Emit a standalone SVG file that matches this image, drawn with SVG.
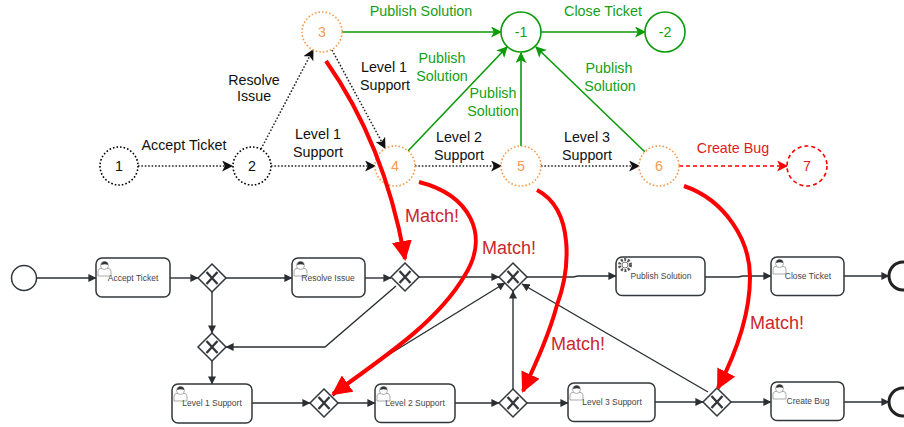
<svg xmlns="http://www.w3.org/2000/svg" width="904" height="427" viewBox="0 0 904 427">
<style>
text{font-family:"Liberation Sans",Arial,sans-serif;text-anchor:middle}
.l{font-size:14.300px}
.k{fill:#111}.g{fill:#15a015}.r{fill:#e01b1b}.o{fill:#f79b4d}
.st{fill:#fff;stroke-width:1.600;stroke-dasharray:1.600 2}
.kc{stroke:#000}.oc{stroke:#f79b4d}.rc{stroke:#f00;stroke-dasharray:4 3;stroke-width:1.600}.gc{fill:#fff;stroke:#0a9a0a;stroke-width:1.600;stroke-dasharray:none}
.dot{fill:none;stroke:#222;stroke-width:1.500;stroke-dasharray:1.600 1.800}
.grn{fill:none;stroke:#0a9a0a;stroke-width:1.600}
.red{fill:none;stroke:#f00;stroke-width:1.600;stroke-dasharray:4 3}
.fl{fill:none;stroke:#2b2f33;stroke-width:1.400}
.big{fill:none;stroke:#f00;stroke-width:4}
.task{fill:#fff;stroke:#33373b;stroke-width:1.500}
.tt{font-size:8.500px;fill:#444}
.gw{fill:#fff;stroke:#33373b;stroke-width:1.500}
.x{fill:none;stroke:#33373b;stroke-width:2.400}
.m{font-size:18px;fill:#c8282d}
.ic{fill:#fff;stroke:#888;stroke-width:.7}
.ih{fill:#333}
</style>
<defs>
<marker id="ak" viewBox="0 0 10 10" refX="9" refY="5" markerWidth="11" markerHeight="11" markerUnits="userSpaceOnUse" orient="auto"><path d="M0 0L10 5L0 10L2.500 5Z" fill="#111"/></marker>
<marker id="ag" viewBox="0 0 10 10" refX="9" refY="5" markerWidth="11" markerHeight="11" markerUnits="userSpaceOnUse" orient="auto"><path d="M0 0L10 5L0 10L2.500 5Z" fill="#0a9a0a"/></marker>
<marker id="ar" viewBox="0 0 10 10" refX="9" refY="5" markerWidth="11" markerHeight="11" markerUnits="userSpaceOnUse" orient="auto"><path d="M0 0L10 5L0 10L2.500 5Z" fill="#f00"/></marker>
<marker id="af" viewBox="0 0 10 10" refX="9.500" refY="5" markerWidth="8" markerHeight="8" markerUnits="userSpaceOnUse" orient="auto"><path d="M0 0L10 5L0 10Z" fill="#2b2f33"/></marker>
<marker id="ab" viewBox="0 0 10 10" refX="9" refY="5" markerWidth="20" markerHeight="20" markerUnits="userSpaceOnUse" orient="auto"><path d="M0 0L10 5L0 10Z" fill="#f00"/></marker>
<g id="person"><path class="ic" d="M0 15V10Q0 7.500 4 7H9Q13 7.500 13 10V15Z"/><circle class="ic" cx="6.500" cy="4.500" r="4"/><path class="ih" d="M3 4Q3.500 .5 6.500 .5Q10 .5 10 4Q7 2.500 3 4Z"/></g>
<path id="cross" class="x" d="M-5.500-6L5.500 6M5.500-6L-5.500 6"/>
</defs>

<g id="connectors">
<g id="state-edges">
<path class="dot" marker-end="url(#ak)" d="M138 166H232"/>
<path class="dot" marker-end="url(#ak)" d="M261 149L313 50"/>
<path class="dot" marker-end="url(#ak)" d="M271 166H375"/>
<path class="dot" marker-end="url(#ak)" d="M332 50L385 148"/>
<path class="dot" marker-end="url(#ak)" d="M415 166H501"/>
<path class="dot" marker-end="url(#ak)" d="M541 166H639"/>
<path class="grn" marker-end="url(#ag)" d="M342 32H501"/>
<path class="grn" marker-end="url(#ag)" d="M408 151L507 47"/>
<path class="grn" marker-end="url(#ag)" d="M521 146V53"/>
<path class="grn" marker-end="url(#ag)" d="M645 152L536 47"/>
<path class="grn" marker-end="url(#ag)" d="M541 32H645"/>
<path class="red" marker-end="url(#ar)" d="M679 166H787"/>
</g>
<g id="flow-edges">
<path class="fl" marker-end="url(#af)" d="M37 278H96"/>
<path class="fl" marker-end="url(#af)" d="M170 278H198"/>
<path class="fl" marker-end="url(#af)" d="M226 278H292"/>
<path class="fl" marker-end="url(#af)" d="M212 292V333"/>
<path class="fl" marker-end="url(#af)" d="M212 361V384"/>
<path class="fl" marker-end="url(#af)" d="M365 278H391"/>
<path class="fl" marker-end="url(#af)" d="M419 277H499"/>
<path class="fl" marker-end="url(#af)" d="M396 286L325 347H226"/>
<path class="fl" marker-end="url(#af)" d="M252 403H310"/>
<path class="fl" marker-end="url(#af)" d="M338 403H357L375 403"/>
<path class="fl" marker-end="url(#af)" d="M333 396L380 360L505 283"/>
<path class="fl" marker-end="url(#af)" d="M455 403H499"/>
<path class="fl" marker-end="url(#af)" d="M513 389V291"/>
<path class="fl" marker-end="url(#af)" d="M527 403H568"/>
<path class="fl" marker-end="url(#af)" d="M655 402H703"/>
<path class="fl" marker-end="url(#af)" d="M708 392L522 284"/>
<path class="fl" marker-end="url(#af)" d="M731 402H771"/>
<path class="fl" marker-end="url(#af)" d="M527 277H573L578 276H616"/>
<path class="fl" marker-end="url(#af)" d="M705 277H738L743 276H771"/>
<path class="fl" marker-end="url(#af)" d="M844 276H889"/>
<path class="fl" marker-end="url(#af)" d="M844 402H889"/>
</g>
</g>

<g id="n1"><circle class="st kc" cx="119" cy="166" r="19"/><text class="l k" x="119" y="171">1</text></g>
<g id="n2"><circle class="st kc" cx="252" cy="166" r="19"/><text class="l k" x="252" y="171">2</text></g>
<g id="n3"><circle class="st oc" cx="322" cy="32" r="20"/><text class="l o" x="322" y="37">3</text></g>
<g id="n4"><circle class="st oc" cx="395" cy="166" r="20"/><text class="l o" x="395" y="171">4</text></g>
<g id="n5"><circle class="st oc" cx="521" cy="166" r="20"/><text class="l o" x="521" y="171">5</text></g>
<g id="n6"><circle class="st oc" cx="659" cy="166" r="20"/><text class="l o" x="659" y="171">6</text></g>
<g id="n7"><circle class="st rc" cx="807" cy="166" r="20"/><text class="l r" x="807" y="171">7</text></g>
<g id="n-1"><circle class="gc" cx="521" cy="32" r="20"/><text class="l g" x="521" y="37">-1</text></g>
<g id="n-2"><circle class="gc" cx="665" cy="32" r="20"/><text class="l g" x="665" y="37">-2</text></g>

<g id="edge-labels">
<text class="l k" x="184" y="150">Accept Ticket</text>
<text class="l k" x="254" y="85">Resolve</text><text class="l k" x="254" y="101">Issue</text>
<text class="l k" x="318" y="139">Level 1</text><text class="l k" x="318" y="157">Support</text>
<text class="l k" x="384" y="72">Level 1</text><text class="l k" x="385" y="90">Support</text>
<text class="l k" x="459" y="142">Level 2</text><text class="l k" x="459" y="160">Support</text>
<text class="l k" x="587" y="142">Level 3</text><text class="l k" x="587" y="160">Support</text>
<text class="l g" x="421" y="16">Publish Solution</text>
<text class="l g" x="603" y="16">Close Ticket</text>
<text class="l g" x="442" y="63">Publish</text><text class="l g" x="442" y="81">Solution</text>
<text class="l g" x="493" y="98">Publish</text><text class="l g" x="493" y="116">Solution</text>
<text class="l g" x="609" y="73">Publish</text><text class="l g" x="610" y="91">Solution</text>
<text class="l r" x="733" y="153">Create Bug</text>
</g>

<g id="start"><circle cx="24" cy="278" r="12.500" fill="#fff" stroke="#33373b" stroke-width="1.500"/></g>
<g id="t-accept"><rect class="task" x="96" y="258" width="74" height="39" rx="6"/><use href="#person" x="98" y="261"/><text class="tt" x="133" y="281">Accept Ticket</text></g>
<g id="t-resolve"><rect class="task" x="292" y="258" width="73" height="39" rx="6"/><use href="#person" x="294" y="261"/><text class="tt" x="328" y="281">Resolve Issue</text></g>
<g id="t-publish"><rect class="task" x="616" y="257" width="89" height="38.500" rx="6"/><circle cx="625" cy="265" r="5.500" fill="#fff" stroke="#555" stroke-width="3" stroke-dasharray="2 1.500"/><circle cx="625" cy="265" r="3" fill="#fff" stroke="#555" stroke-width=".8"/><text class="tt" x="661" y="279">Publish Solution</text></g>
<g id="t-close"><rect class="task" x="771" y="257" width="73" height="38.500" rx="6"/><use href="#person" x="773" y="259"/><text class="tt" x="808" y="279">Close Ticket</text></g>
<g id="t-l1"><rect class="task" x="172" y="384" width="80" height="39" rx="6"/><use href="#person" x="174" y="386"/><text class="tt" x="212" y="406">Level 1 Support</text></g>
<g id="t-l2"><rect class="task" x="375" y="384" width="80" height="38.500" rx="6"/><use href="#person" x="377" y="386"/><text class="tt" x="415" y="406">Level 2 Support</text></g>
<g id="t-l3"><rect class="task" x="568" y="383" width="87" height="38.500" rx="6"/><use href="#person" x="570" y="385"/><text class="tt" x="612" y="405">Level 3 Support</text></g>
<g id="t-bug"><rect class="task" x="771" y="382" width="73" height="38.500" rx="6"/><use href="#person" x="773" y="384"/><text class="tt" x="808" y="404">Create Bug</text></g>
<g id="g1"><path class="gw" d="M212 264L226 278L212 292L198 278Z"/><use href="#cross" x="212" y="278"/></g>
<g id="g2"><path class="gw" d="M212 333L226 347L212 361L198 347Z"/><use href="#cross" x="212" y="347"/></g>
<g id="g3"><path class="gw" d="M405 263L419 277L405 291L391 277Z"/><use href="#cross" x="405" y="277"/></g>
<g id="g4"><path class="gw" d="M513 263L527 277L513 291L499 277Z"/><use href="#cross" x="513" y="277"/></g>
<g id="g5"><path class="gw" d="M324 389L338 403L324 417L310 403Z"/><use href="#cross" x="324" y="403"/></g>
<g id="g6"><path class="gw" d="M513 389L527 403L513 417L499 403Z"/><use href="#cross" x="513" y="403"/></g>
<g id="g7"><path class="gw" d="M717 388L731 402L717 416L703 402Z"/><use href="#cross" x="717" y="402"/></g>
<g id="end1"><circle cx="903" cy="276" r="14" fill="#fff" stroke="#222" stroke-width="3"/></g>
<g id="end2"><circle cx="903" cy="402" r="14" fill="#fff" stroke="#222" stroke-width="3"/></g>

<g id="match-arrows">
<path class="big" marker-end="url(#ab)" d="M326 61Q385 145 405 259"/>
<path class="big" marker-end="url(#ab)" d="M419 182C470 195 490 235 465 275C440 318 395 350 333 394"/>
<path class="big" marker-end="url(#ab)" d="M537 190C575 210 570 270 557 305C549 335 535 365 523 391"/>
<path class="big" marker-end="url(#ab)" d="M684 186C725 200 750 240 750 277C750 315 735 355 718 388"/>
</g>
<g id="match-labels">
<text class="m" x="432" y="222">Match!</text>
<text class="m" x="509" y="254">Match!</text>
<text class="m" x="578" y="350">Match!</text>
<text class="m" x="777" y="329">Match!</text>
</g>
</svg>
